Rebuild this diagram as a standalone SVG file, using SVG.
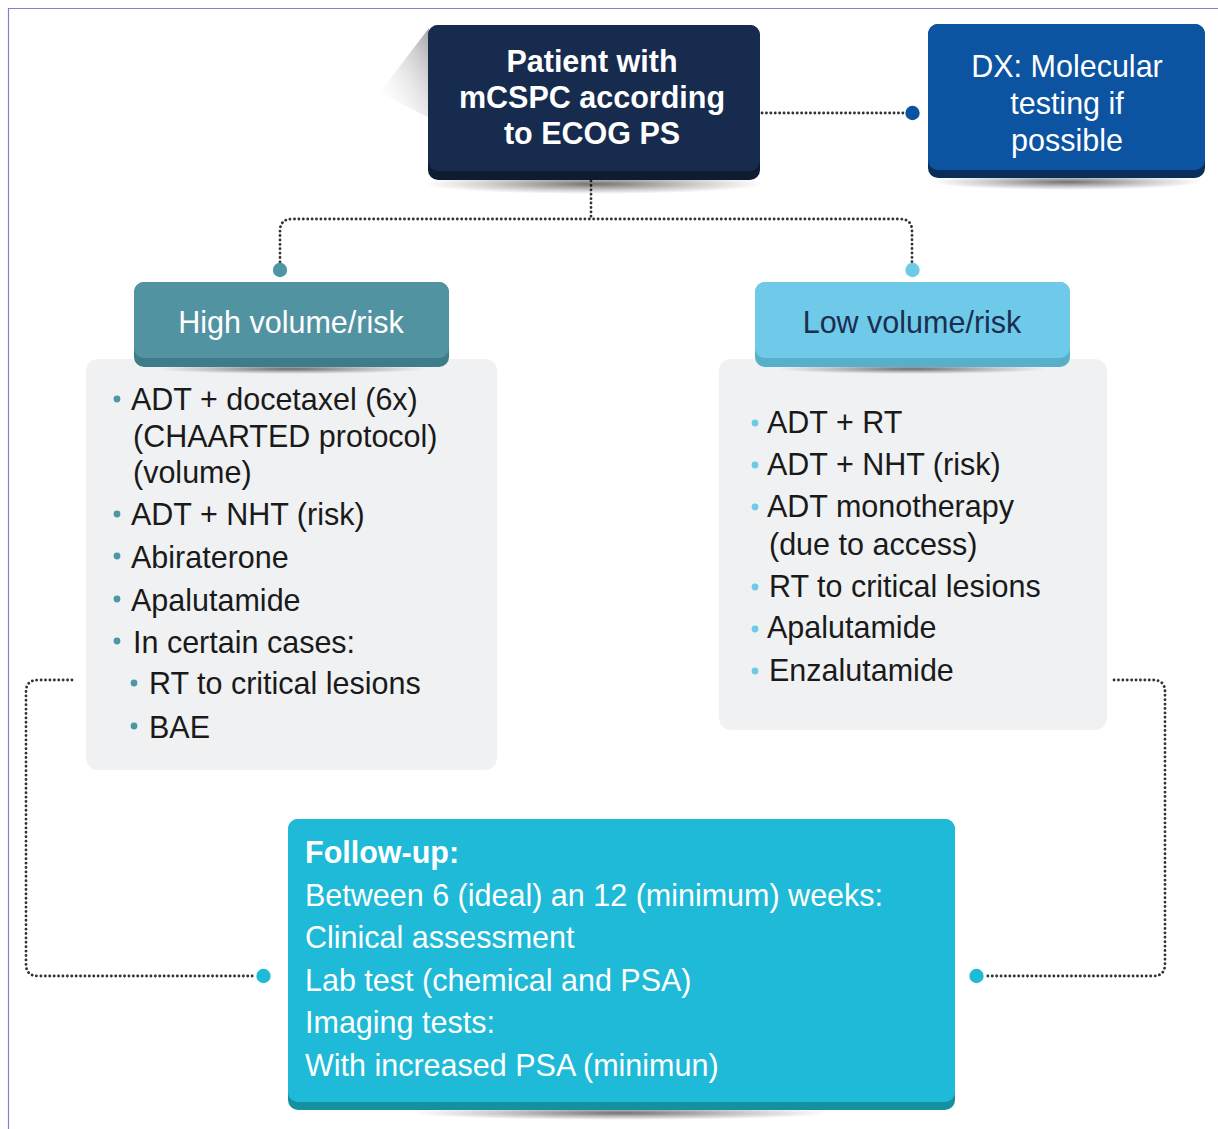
<svg xmlns="http://www.w3.org/2000/svg" width="1218" height="1129" viewBox="0 0 1218 1129">
<defs>
<style>
.t{font-family:"Liberation Sans",Arial,sans-serif;font-size:30.5px}
.b{font-weight:bold}
.w{fill:#ffffff}
.k{fill:#1a1a1a}
.dot{fill:none;stroke:#333333;stroke-width:2.8;stroke-dasharray:0.1 4.3;stroke-linecap:round}
</style>
<radialGradient id="sh" cx="0.5" cy="0.5" r="0.5">
<stop offset="0" stop-color="#000" stop-opacity="0.55"/>
<stop offset="0.6" stop-color="#000" stop-opacity="0.2"/>
<stop offset="1" stop-color="#000" stop-opacity="0"/>
</radialGradient>
<linearGradient id="wedge" x1="1" y1="0" x2="0" y2="1">
<stop offset="0" stop-color="#9a9a9a" stop-opacity="0.9"/>
<stop offset="1" stop-color="#ffffff" stop-opacity="0"/>
</linearGradient>
</defs>
<rect width="1218" height="1129" fill="#ffffff"/>
<path d="M8.5 1129 V8.5 H1218" fill="none" stroke="#8080cc" stroke-width="1.2"/>

<g id="connectors">
<path class="dot" d="M762 113 H905"/>
<path class="dot" d="M591 181 V219"/>
<path class="dot" d="M280 262 V231 Q280 219 292 219 H900 Q912 219 912 231 V262"/>
<path class="dot" d="M72 680 H38 Q26 680 26 692 V964 Q26 976 38 976 H256"/>
<path class="dot" d="M1114 680 H1153 Q1165 680 1165 692 V964 Q1165 976 1153 976 H984"/>
<circle cx="912.5" cy="113" r="7.2" fill="#0b52a0"/>
<circle cx="280" cy="270" r="7.2" fill="#4f96a5"/>
<circle cx="912.5" cy="270" r="7.2" fill="#6dcbe8"/>
<circle cx="263.5" cy="976" r="7.2" fill="#1ebad7"/>
<circle cx="976.5" cy="976" r="7.2" fill="#1ebad7"/>
</g>

<g id="patient">
<polygon points="429,28 429,118 380,92" fill="url(#wedge)"/>
<ellipse cx="594" cy="184" rx="170" ry="10" fill="url(#sh)"/>
<rect x="428" y="25" width="332" height="155" rx="10" fill="#0f1b30"/>
<rect x="428" y="25" width="332" height="146" rx="10" fill="#172b4e"/>
<text class="t b w" text-anchor="middle" x="592" y="72">Patient with</text>
<text class="t b w" text-anchor="middle" x="592" y="108">mCSPC according</text>
<text class="t b w" text-anchor="middle" x="592" y="144">to ECOG PS</text>
</g>

<g id="dx">
<ellipse cx="1067" cy="182" rx="135" ry="8" fill="url(#sh)"/>
<rect x="928" y="24" width="277" height="154" rx="10" fill="#0a2e5a"/>
<rect x="928" y="24" width="277" height="146" rx="10" fill="#0c53a1"/>
<text class="t w" text-anchor="middle" x="1067" y="77">DX: Molecular</text>
<text class="t w" text-anchor="middle" x="1067" y="114">testing if</text>
<text class="t w" text-anchor="middle" x="1067" y="151">possible</text>
</g>

<g id="high-box">
<rect x="86" y="359" width="411" height="411" rx="12" fill="#f0f1f2"/>
<g fill="#4f96a5">
<circle cx="117" cy="399" r="3.4"/>
<circle cx="117" cy="514" r="3.4"/>
<circle cx="117" cy="556" r="3.4"/>
<circle cx="117" cy="599" r="3.4"/>
<circle cx="117" cy="641" r="3.4"/>
<circle cx="134" cy="683" r="3.4"/>
<circle cx="134" cy="726" r="3.4"/>
</g>
<text class="t k" x="131" y="410">ADT + docetaxel (6x)</text>
<text class="t k" x="133" y="447">(CHAARTED protocol)</text>
<text class="t k" x="133" y="483">(volume)</text>
<text class="t k" x="131" y="525">ADT + NHT (risk)</text>
<text class="t k" x="131" y="568">Abiraterone</text>
<text class="t k" x="131" y="611">Apalutamide</text>
<text class="t k" x="133" y="653">In certain cases:</text>
<text class="t k" x="149" y="694">RT to critical lesions</text>
<text class="t k" x="149" y="738">BAE</text>
</g>

<g id="high-header">
<ellipse cx="291" cy="369" rx="135" ry="5" fill="url(#sh)"/>
<rect x="134" y="282" width="315" height="85" rx="10" fill="#3f7c8a"/>
<rect x="134" y="282" width="315" height="76" rx="10" fill="#5293a2"/>
<text class="t w" text-anchor="middle" x="291" y="333">High volume/risk</text>
</g>

<g id="low-box">
<rect x="719" y="359" width="388" height="371" rx="12" fill="#f0f1f2"/>
<g fill="#6dcbe8">
<circle cx="755" cy="423" r="3.4"/>
<circle cx="755" cy="465" r="3.4"/>
<circle cx="755" cy="507" r="3.4"/>
<circle cx="755" cy="587" r="3.4"/>
<circle cx="755" cy="629" r="3.4"/>
<circle cx="755" cy="671" r="3.4"/>
</g>
<text class="t k" x="767" y="433">ADT + RT</text>
<text class="t k" x="767" y="475">ADT + NHT (risk)</text>
<text class="t k" x="767" y="517">ADT monotherapy</text>
<text class="t k" x="769" y="555">(due to access)</text>
<text class="t k" x="769" y="597">RT to critical lesions</text>
<text class="t k" x="767" y="638">Apalutamide</text>
<text class="t k" x="769" y="681">Enzalutamide</text>
</g>

<g id="low-header">
<ellipse cx="912" cy="369" rx="135" ry="5" fill="url(#sh)"/>
<rect x="755" y="282" width="315" height="85" rx="10" fill="#58afc9"/>
<rect x="755" y="282" width="315" height="76" rx="10" fill="#6ecae8"/>
<text class="t" fill="#1b2e50" text-anchor="middle" x="912" y="333">Low volume/risk</text>
</g>

<g id="follow-up">
<ellipse cx="621" cy="1113" rx="210" ry="7" fill="url(#sh)"/>
<rect x="288" y="819" width="667" height="291" rx="10" fill="#15909f"/>
<rect x="288" y="819" width="667" height="283" rx="10" fill="#1ebad7"/>
<text class="t b w" x="305" y="863">Follow-up:</text>
<text class="t w" x="305" y="906">Between 6 (ideal) an 12 (minimum) weeks:</text>
<text class="t w" x="305" y="948">Clinical assessment</text>
<text class="t w" x="305" y="991">Lab test (chemical and PSA)</text>
<text class="t w" x="305" y="1033">Imaging tests:</text>
<text class="t w" x="305" y="1076">With increased PSA (minimun)</text>
</g>
</svg>
